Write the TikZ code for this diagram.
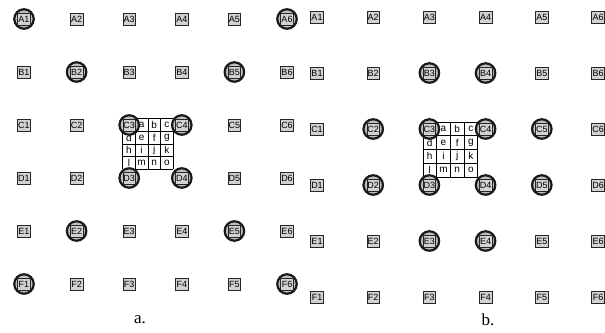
\documentclass[tikz,border=0pt]{standalone}
\usepackage{fontspec}
\setmainfont{Liberation Serif}
\setsansfont{Liberation Sans}
\begin{document}
\begin{tikzpicture}[x=1pt,y=-1pt,
  cellbox/.style={draw=black!85, line width=0.6pt, fill=gray!35, font=\sffamily\fontsize{9}{9}\selectfont, inner sep=0.6pt, minimum width=12.5pt, minimum height=12pt},
  ringfill/.style={circle, fill=gray!50, minimum size=19pt, inner sep=0pt},
  ringline/.style={circle, draw=black!90, line width=2.2pt, minimum size=19.5pt, inner sep=0pt},
  gridline/.style={draw=black, line width=0.6pt},
  letter/.style={font=\sffamily\fontsize{10}{10}\selectfont, inner sep=0pt},
  panellabel/.style={font=\fontsize{17}{17}\selectfont, inner sep=0pt}]
\useasboundingbox (0,0) rectangle (605,332);
% ---------- letter grids ----------
\foreach \k in {0,...,4}{
  \draw[gridline] ({122.7+12.6*\k},118.7) -- ({122.7+12.6*\k},169.1);
  \draw[gridline] (122.7,{118.7+12.6*\k}) -- (173.1,{118.7+12.6*\k});
  \draw[gridline] ({422.9+13.7*\k},122) -- ({422.9+13.7*\k},176.8);
  \draw[gridline] (422.9,{122+13.7*\k}) -- (477.7,{122+13.7*\k});
}
\foreach \t/\cx/\cy in {a/1/0,b/2/0,c/3/0,d/0/1,e/1/1,f/2/1,g/3/1,h/0/2,i/1/2,j/2/2,k/3/2,l/0/3,m/1/3,n/2/3,o/3/3}{
  \node[letter] (ga\t) at ({122.7+12.6*(\cx+0.5)},{118.7+12.6*(\cy+0.5)}) {\t};
  \node[letter] (gb\t) at ({422.9+13.7*(\cx+0.5)},{122+13.7*(\cy+0.5)}) {\t};
}
% ---------- ring fills ----------
\foreach \r/\c in {0/1,0/6,1/2,1/5,2/3,2/4,3/3,3/4,4/2,4/5,5/1,5/6}{
  \node[ringfill] (fa\r\c) at ({24+52.6*(\c-1)},{19+53*\r}) {};
}
\foreach \r/\c in {1/3,1/4,2/2,2/3,2/4,2/5,3/2,3/3,3/4,3/5,4/3,4/4}{
  \node[ringfill] (fb\r\c) at ({317+56.2*(\c-1)},{17+56*\r}) {};
}
% ---------- boxes ----------
\foreach \R [count=\r from 0] in {A,B,C,D,E,F}{
  \foreach \c in {1,...,6}{
    \node[cellbox] (a\R\c) at ({24+52.6*(\c-1)},{19+53*\r}) {\R\c};
    \node[cellbox] (b\R\c) at ({317+56.2*(\c-1)},{17+56*\r}) {\R\c};
  }
}
% ---------- ring outlines ----------
\foreach \R/\c in {A/1,A/6,B/2,B/5,C/3,C/4,D/3,D/4,E/2,E/5,F/1,F/6}{
  \node[ringline] (ra\R\c) at (a\R\c.center) {};
}
\foreach \R/\c in {B/3,B/4,C/2,C/3,C/4,C/5,D/2,D/3,D/4,D/5,E/3,E/4}{
  \node[ringline] (rb\R\c) at (b\R\c.center) {};
}
% ---------- panel labels ----------
\node[panellabel] (la) at (140,320) {a.};
\node[panellabel] (lb) at (488,320) {b.};
\end{tikzpicture}
\end{document}
